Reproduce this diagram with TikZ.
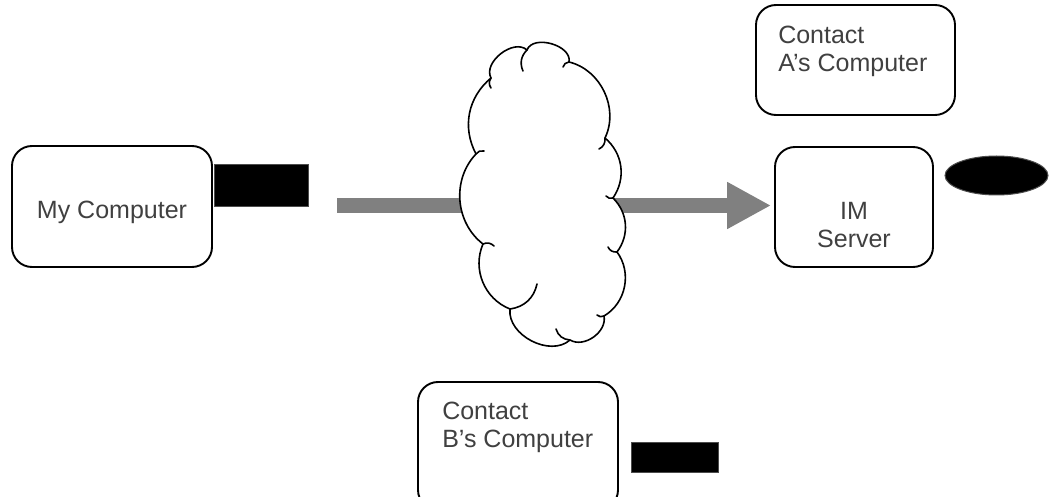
\documentclass[tikz,border=0pt]{standalone}
\usepackage{fontspec}
\setmainfont{Liberation Sans}
\usetikzlibrary{arrows.meta, positioning, shapes.geometric}
\definecolor{textgray}{RGB}{64, 64, 64}
\definecolor{arrowgray}{RGB}{128, 128, 128}

\tikzset{
  pcbox/.style={draw, line width=1.9pt, rounded corners=20pt, fill=white, inner sep=0pt},
  boxtext/.style={text=textgray, font=\fontsize{25}{28}\selectfont, inner sep=0pt, align=left},
  blackbox/.style={fill=black, draw=black!70, line width=1pt, inner sep=0pt},
  fatarrow/.style={arrowgray, line width=15pt, -{Triangle[length=44pt, width=44pt]}, shorten >=3pt},
  cloudline/.style={line width=1.6pt, line join=round, line cap=round}
}

\begin{document}
\begin{tikzpicture}[x=1pt, y=1pt]
  \useasboundingbox (0,0) rectangle (1053,496);

  % 计算机节点
  \node[pcbox, minimum width=200pt, minimum height=121pt] (mycomp) at (112,289.5) {};
  \node[pcbox, minimum width=199pt, minimum height=110pt] (contactA) at (855.5,436) {};
  \node[pcbox, minimum width=158pt, minimum height=120pt] (imserver) at (854,289) {};
  \node[pcbox, minimum width=200pt, minimum height=128pt] (contactB) at (518,50) {};

  % 文字
  \node[boxtext, anchor=base] (mycomptext) at ([yshift=-12.5pt]mycomp.center) {My Computer};
  \node[boxtext, below right=22pt and 23pt of contactA.north west] (contactAtext) {Contact\\A’s Computer};
  \node[boxtext, align=center, below=56pt of imserver.north] (imservertext) {IM\\Server};
  \node[boxtext, below right=21pt and 25pt of contactB.north west] (contactBtext) {Contact\\B’s Computer};

  % 黑色标记
  \node[blackbox, minimum width=94pt, minimum height=42pt] (mytag) at (261,310) {};
  \node[blackbox, minimum width=87pt, minimum height=30pt] (contactBtag) at (674.5,39) {};
  \node[blackbox, ellipse, minimum width=103pt, minimum height=39pt] (imtag) at (996.5,320.5) {};

  % 粗箭头（在云的后面）
  \coordinate (arrowstart) at (337,290.5);
  \draw[fatarrow] (arrowstart) -- (arrowstart -| imserver.west);

  % 云：接点
  \foreach \n/\x/\y in {1/527/446, 2/569/434, 3/605/358, 4/613/298, 5/617/244, 6/604/180,
                        7/570/156, 8/510/187, 9/483/252, 10/476/342, 11/491/418}
    \coordinate (j\n) at (\x,\y);

  \filldraw[cloudline, fill=white] (j11)
    \foreach \b/\t in {1/80, 2/85, 3/51, 4/42, 5/41, 6/48, 7/66, 8/69, 9/46, 10/48, 11/39} {
      to[bend left=\t] (j\b)
    } -- cycle;

  % 云内的小弧
  \foreach \n/\x/\y in {11/491/408, 1/523/425, 2/563/429, 8/537/212}
    \draw[cloudline] (j\n) to[bend right=35] (\x,\y);
  \foreach \n/\x/\y in {3/599/347, 4/606/300, 5/608/249, 6/597/181, 7/556/167, 9/494/250, 10/484/345}
    \draw[cloudline] (j\n) to[bend left=35] (\x,\y);
\end{tikzpicture}
\end{document}
